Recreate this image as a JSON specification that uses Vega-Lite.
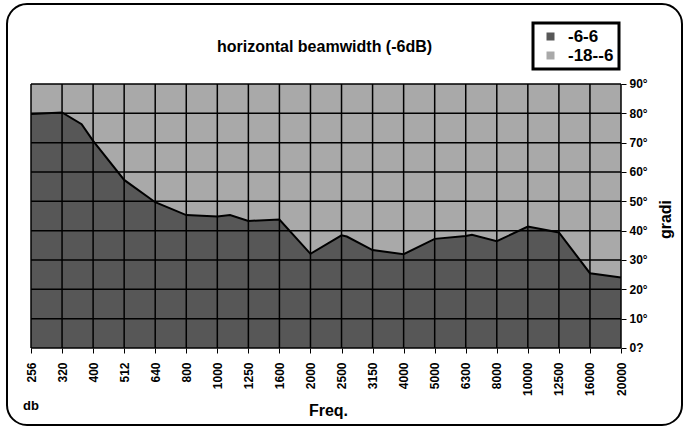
{
  "$schema": "https://vega.github.io/schema/vega-lite/v6.json",
  "width": 675,
  "height": 421,
  "autosize": {"type": "none"},
  "padding": {"left": 7, "top": 4, "right": 6, "bottom": 4},
  "background": "white",
  "config": {
    "font": "Liberation Sans",
    "view": {"stroke": "black", "strokeWidth": 2, "cornerRadius": 20},
    "legend": {"strokeWidth": 3},
    "axis": {"labelOverlap": false, "labelFlush": false}
  },
  "title": {
    "text": "horizontal beamwidth (-6dB)",
    "font": "Liberation Sans",
    "fontSize": 16,
    "fontWeight": "bold",
    "color": "black",
    "anchor": "middle",
    "offset": 0,
    "baseline": "middle",
    "dy": 59,
    "dx": -20
  },
  "datasets": {
    "light": [
      {"i": 0, "v": 90, "s": "-18--6"}, {"i": 1, "v": 90, "s": "-18--6"},
      {"i": 2, "v": 90, "s": "-18--6"}, {"i": 3, "v": 90, "s": "-18--6"},
      {"i": 4, "v": 90, "s": "-18--6"}, {"i": 5, "v": 90, "s": "-18--6"},
      {"i": 6, "v": 90, "s": "-18--6"}, {"i": 7, "v": 90, "s": "-18--6"},
      {"i": 8, "v": 90, "s": "-18--6"}, {"i": 9, "v": 90, "s": "-18--6"},
      {"i": 10, "v": 90, "s": "-18--6"}, {"i": 11, "v": 90, "s": "-18--6"},
      {"i": 12, "v": 90, "s": "-18--6"}, {"i": 13, "v": 90, "s": "-18--6"},
      {"i": 14, "v": 90, "s": "-18--6"}, {"i": 15, "v": 90, "s": "-18--6"},
      {"i": 16, "v": 90, "s": "-18--6"}, {"i": 17, "v": 90, "s": "-18--6"},
      {"i": 18, "v": 90, "s": "-18--6"}, {"i": 19, "v": 90, "s": "-18--6"}
    ],
    "dark": [
      {"i": 0, "v": 79.8, "s": "-6-6"},
      {"i": 1, "v": 80.3, "s": "-6-6"},
      {"i": 1.63, "v": 76.3, "s": "-6-6"},
      {"i": 2, "v": 70.6, "s": "-6-6"},
      {"i": 3, "v": 57.3, "s": "-6-6"},
      {"i": 4, "v": 49.7, "s": "-6-6"},
      {"i": 5, "v": 45.3, "s": "-6-6"},
      {"i": 6, "v": 44.8, "s": "-6-6"},
      {"i": 6.41, "v": 45.3, "s": "-6-6"},
      {"i": 7, "v": 43.3, "s": "-6-6"},
      {"i": 8, "v": 43.8, "s": "-6-6"},
      {"i": 9, "v": 32.1, "s": "-6-6"},
      {"i": 10, "v": 38.4, "s": "-6-6"},
      {"i": 10.17, "v": 38.0, "s": "-6-6"},
      {"i": 11, "v": 33.4, "s": "-6-6"},
      {"i": 12, "v": 32.0, "s": "-6-6"},
      {"i": 13, "v": 37.2, "s": "-6-6"},
      {"i": 14, "v": 38.2, "s": "-6-6"},
      {"i": 14.2, "v": 38.6, "s": "-6-6"},
      {"i": 15, "v": 36.4, "s": "-6-6"},
      {"i": 16, "v": 41.4, "s": "-6-6"},
      {"i": 17, "v": 39.4, "s": "-6-6"},
      {"i": 18, "v": 25.5, "s": "-6-6"},
      {"i": 19, "v": 24.0, "s": "-6-6"}
    ],
    "hg": [
      {"v": 0}, {"v": 10}, {"v": 20}, {"v": 30}, {"v": 40},
      {"v": 50}, {"v": 60}, {"v": 70}, {"v": 80}, {"v": 90}
    ]
  },
  "layer": [
    {
      "data": {"name": "light"},
      "mark": {"type": "area", "opacity": 1},
      "encoding": {
        "x": {
          "field": "i", "type": "quantitative", "title": "Freq.",
          "scale": {"domain": [-0.7729, 20.9644], "nice": false, "zero": false},
          "axis": {
            "orient": "bottom", "offset": -77,
            "values": [0,1,2,3,4,5,6,7,8,9,10,11,12,13,14,15,16,17,18,19],
            "labelExpr": "['256','320','400','512','640','800','1000','1250','1600','2000','2500','3150','4000','5000','6300','8000','10000','12500','16000','20000'][datum.value]",
            "labelAngle": 270, "labelAlign": "right", "labelBaseline": "middle",
            "labelPadding": 9, "labelFontSize": 12, "labelFontWeight": "bold",
            "labelColor": "black", "labelOverlap": false, "labelFlush": false,
            "tickSize": 5, "tickColor": "black", "tickWidth": 1,
            "domain": false, "grid": false,
            "titleFontSize": 16, "titleFontWeight": "bold", "titleColor": "black",
            "titleX": 321, "titleY": 62, "titleBaseline": "middle", "titleAlign": "center"
          }
        },
        "y": {
          "field": "v", "type": "quantitative", "title": "gradi", "stack": null,
          "scale": {"domain": [-26.25, 117.27], "nice": false, "zero": false},
          "axis": {
            "orient": "right", "offset": -61,
            "values": [0,10,20,30,40,50,60,70,80,90],
            "labelExpr": "datum.value == 0 ? '0?' : datum.value + '°'",
            "labelFontSize": 12, "labelFontWeight": "bold", "labelColor": "black",
            "labelPadding": 3, "labelOverlap": false, "labelFlush": false,
            "tickSize": 5, "tickColor": "black", "tickWidth": 1,
            "domain": false, "grid": false,
            "titleAngle": 270, "titleX": 44, "titleY": 215,
            "titleFontSize": 16, "titleFontWeight": "bold", "titleColor": "black",
            "titleAlign": "center", "titleBaseline": "middle"
          }
        },
        "y2": {"datum": 0},
        "color": {
          "field": "s", "type": "nominal",
          "scale": {"domain": ["-6-6", "-18--6"], "range": ["#575757", "#a9a9a9"]},
          "legend": {
            "orient": "none", "legendX": 526, "legendY": 19, "title": null,
            "symbolType": "square", "symbolSize": 64, "symbolStrokeWidth": 0,
            "labelFontSize": 17, "labelFontWeight": "bold", "labelColor": "black",
            "strokeColor": "black", "fillColor": "white",
            "padding": 5, "symbolOffset": 4, "labelOffset": 9, "rowPadding": 1
          }
        }
      }
    },
    {
      "data": {"name": "dark"},
      "mark": {"type": "area", "opacity": 1},
      "encoding": {
        "x": {"field": "i", "type": "quantitative", "title": "Freq.",
          "axis": {"values": [0,1,2,3,4,5,6,7,8,9,10,11,12,13,14,15,16,17,18,19]}},
        "y": {"field": "v", "type": "quantitative", "title": "gradi", "stack": null,
          "axis": {"values": [0,10,20,30,40,50,60,70,80,90]}},
        "y2": {"datum": 0},
        "color": {"field": "s", "type": "nominal"}
      }
    },
    {
      "data": {"name": "hg"},
      "mark": {"type": "rule", "color": "black", "strokeWidth": 1.5},
      "encoding": {
        "y": {"field": "v", "type": "quantitative", "title": "gradi",
          "axis": {"values": [0,10,20,30,40,50,60,70,80,90]}},
        "x": {"datum": 0, "type": "quantitative", "title": "Freq.",
          "axis": {"values": [0,1,2,3,4,5,6,7,8,9,10,11,12,13,14,15,16,17,18,19]}},
        "x2": {"datum": 19}
      }
    },
    {
      "data": {"name": "light"},
      "mark": {"type": "rule", "color": "black", "strokeWidth": 1.5},
      "encoding": {
        "x": {"field": "i", "type": "quantitative", "title": "Freq.",
          "axis": {"values": [0,1,2,3,4,5,6,7,8,9,10,11,12,13,14,15,16,17,18,19]}},
        "y": {"datum": 0, "type": "quantitative", "title": "gradi",
          "axis": {"values": [0,10,20,30,40,50,60,70,80,90]}},
        "y2": {"datum": 90}
      }
    },
    {
      "data": {"name": "dark"},
      "mark": {"type": "line", "color": "black", "strokeWidth": 2},
      "encoding": {
        "x": {"field": "i", "type": "quantitative", "title": "Freq.",
          "axis": {"values": [0,1,2,3,4,5,6,7,8,9,10,11,12,13,14,15,16,17,18,19]}},
        "y": {"field": "v", "type": "quantitative", "title": "gradi",
          "axis": {"values": [0,10,20,30,40,50,60,70,80,90]}}
      }
    },
    {
      "data": {"values": [{"t": "db"}]},
      "mark": {"type": "text", "fontSize": 13, "fontWeight": "bold", "color": "black", "align": "center", "baseline": "middle"},
      "encoding": {
        "x": {"datum": 0, "type": "quantitative", "title": "Freq.",
          "axis": {"values": [0,1,2,3,4,5,6,7,8,9,10,11,12,13,14,15,16,17,18,19]}},
        "y": {"datum": -19.67, "type": "quantitative", "title": "gradi",
          "axis": {"values": [0,10,20,30,40,50,60,70,80,90]}},
        "text": {"field": "t"}
      }
    }
  ]
}
